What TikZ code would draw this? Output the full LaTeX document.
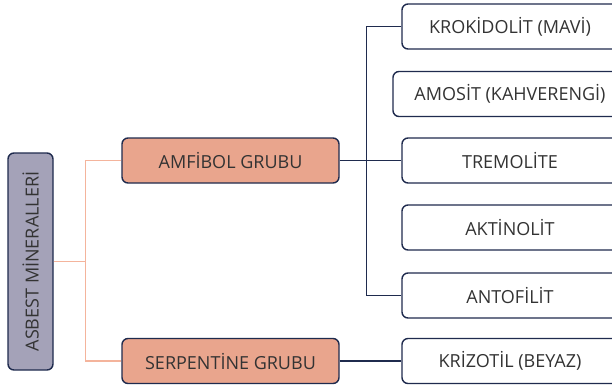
\documentclass[tikz,border=0pt]{standalone}
\usepackage{fontspec}
\setmainfont{Open Sans}
\definecolor{navy}{HTML}{1F2B4E}
\definecolor{grayfill}{HTML}{A4A2B8}
\definecolor{orangefill}{HTML}{E9A58D}
\definecolor{orangeline}{HTML}{F4B49C}
\definecolor{txt}{HTML}{333333}
\begin{document}
\begin{tikzpicture}[x=1pt,y=-1pt,
  base/.style={draw=navy,line width=1.4pt,rounded corners=6pt,inner sep=0pt,
    text=txt,font=\fontsize{18}{20}\selectfont,align=center},
  rootbox/.style={base,fill=grayfill,minimum width=217pt,minimum height=45pt},
  groupbox/.style={base,fill=orangefill,minimum width=217pt,minimum height=45pt},
  leafbox/.style={base,fill=white,minimum width=216pt,minimum height=45pt},
  darkline/.style={draw=navy,line width=1.5pt},
  orangeconn/.style={draw=orangeline,line width=1.5pt}]
\useasboundingbox (0,0) rectangle (612,389);
\fill[white] (0,0) rectangle (612,389);
\node[rootbox,rotate=90] (asb) at (30.5,261.5) {ASBEST MİNERALLERİ};
\node[groupbox] (amf) at (230.5,160.5) {AMFİBOL GRUBU};
\node[groupbox] (ser) at (230.5,361) {SERPENTİNE GRUBU};
\node[leafbox] (kro) at (510,26.5) {KROKİDOLİT (MAVİ)};
\node[leafbox,minimum width=234pt] (amo) at (510,94) {AMOSİT (KAHVERENGİ)};
\node[leafbox] (tre) at (510,160.5) {TREMOLİTE};
\node[leafbox] (akt) at (510,227.5) {AKTİNOLİT};
\node[leafbox] (ant) at (510,295.5) {ANTOFİLİT};
\node[leafbox] (kri) at (510,361) {KRİZOTİL (BEYAZ)};
\coordinate (oj) at (86,261.5);
\draw[orangeconn] (asb.south) -- (oj);
\draw[orangeconn] (amf.west) -- ++(-36,0) |- (ser.west);
\draw[darkline] (kro.west) -- ++(-35,0) |- (ant.west);
\draw[darkline] (amf.east) -- (tre.west);
\draw[darkline] (ser.east) -- (kri.west);
\end{tikzpicture}
\end{document}
